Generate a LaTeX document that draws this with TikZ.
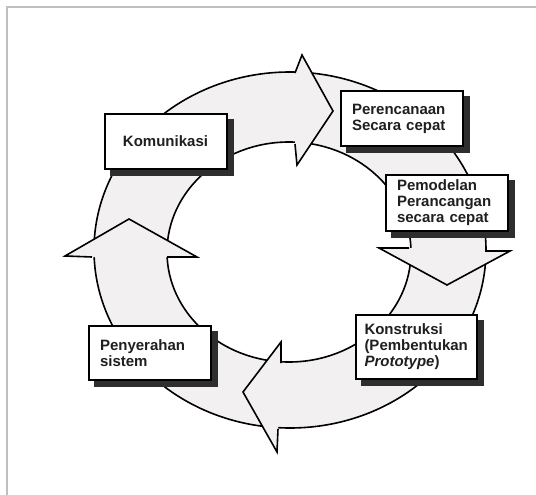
\documentclass[tikz,border=0pt]{standalone}
\usepackage{fontspec}
\setmainfont{Liberation Sans}
\definecolor{cincin}{HTML}{F3F0F1}
\definecolor{bayang}{HTML}{2E2E2E}
\pgfdeclarelayer{background}
\pgfdeclarelayer{bayangan}
\pgfsetlayers{background,bayangan,main}

\begin{document}
\begin{tikzpicture}
    [x=1pt, y=-1pt,
    ring/.style={fill=cincin},
    garis/.style={line width=1.6pt, line join=miter},
    tahap/.style={draw, fill=white, line width=2pt, text=black!88,
      text width=100pt, inner xsep=11pt, align=left, minimum height=54pt,
      font=\fontsize{15}{16}\selectfont\bfseries}]
  \useasboundingbox (0,0) rectangle (536,495);
  \begin{pgfonlayer}{background}
    \draw[black!25, line width=1.5pt] (7,495) -- (7,7) -- (536,7);
    % cincin
    \fill[ring, even odd rule] (290,250) ellipse [x radius=196pt, y radius=178pt]
      (289,252) ellipse [x radius=122pt, y radius=110pt];
    \draw[garis] (290,250) ellipse [x radius=196pt, y radius=178pt];
    \draw[garis] (289,252) ellipse [x radius=122pt, y radius=110pt];
    % kepala panah
    \foreach \o/\b/\a/\c/\i in
      {{295,73}/{302,55}/{333,111}/{297,165}/{295,144},
       {485,251}/{510,251}/{447,285}/{379,248}/{409,248},
       {278,429}/{277,452}/{243,392}/{281,342}/{281,363},
       {167,257}/{197,257}/{129,219}/{65,256}/{92,257}}
    {
      \fill[ring] (\o) -- (\b) -- (\a) -- (\c) -- (\i) -- cycle;
      \draw[garis] (\o) -- (\b) -- (\a) -- (\c) -- (\i);
    }
  \end{pgfonlayer}
  \node[tahap, align=center] (komunikasi) at (165.5,141.5) {Komunikasi};
  \node[tahap] (perencanaan) at (402,118.5) {Perencanaan\\Secara cepat};
  \node[tahap, minimum height=56pt] (pemodelan) at (447,203)
    {Pemodelan\\Perancangan\\secara cepat};
  \node[tahap, text width=104pt, inner xsep=8.5pt, minimum height=64pt]
    (konstruksi) at (416.5,347) {Konstruksi\\(Pembentukan\\\textit{Prototype})};
  \node[tahap] (penyerahan) at (150,353) {Penyerahan\\sistem};
  \begin{pgfonlayer}{bayangan}
    \foreach \n in {komunikasi,perencanaan,pemodelan,konstruksi,penyerahan}
      \fill[bayang] ([shift={(6,6)}]\n.north west) rectangle ([shift={(6,6)}]\n.south east);
  \end{pgfonlayer}
\end{tikzpicture}
\end{document}
